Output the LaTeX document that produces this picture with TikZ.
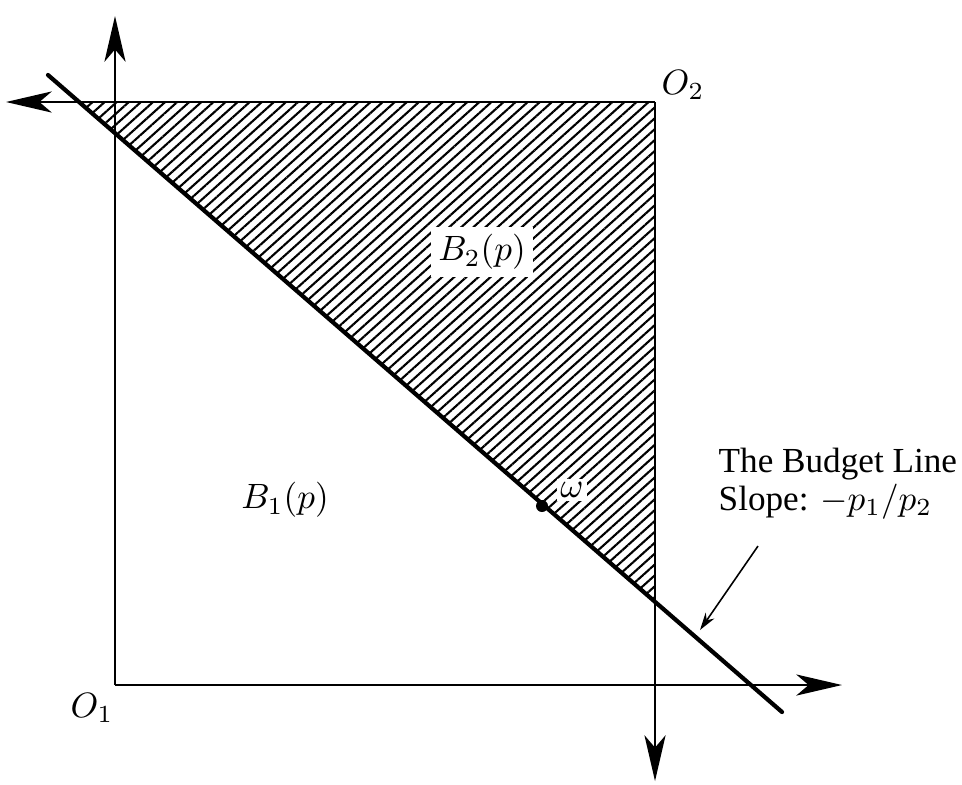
\documentclass[tikz,border=0pt]{standalone}
\usepackage{fontspec}
\setmainfont{Liberation Serif}
\usetikzlibrary{arrows.meta,patterns.meta}
\begin{document}
\begin{tikzpicture}[x=0.01cm, y=-0.01cm, >={Stealth[length=13pt,width=6pt,inset=3.5pt]},
    axis/.style={line width=0.75pt, ->},
    hatch/.style={pattern={Lines[angle=42,distance=2.3pt,line width=0.6pt]}}]
    \useasboundingbox (0,0) rectangle (962,784);

    % Corners of the box
    \coordinate (O1) at (115,685);
    \coordinate (O2) at (655,102);
    \coordinate (uptip) at (115,16);
    \coordinate (righttip) at (842,685);
    \coordinate (lefttip) at (6,102);
    \coordinate (downtip) at (655,781);

    % Budget line and where it meets the box
    \coordinate (bstart) at (48,75);
    \coordinate (bend) at (782,712);
    \coordinate (btop) at (79,102);
    \coordinate (bright) at (655,603);
    \coordinate (omega) at (542,506);

    % Hatched region B_2(p)
    \fill[hatch] (btop) -- (O2) -- (bright) -- cycle;

    % Axes of both consumers
    \draw[axis] (O1) -- (uptip);
    \draw[axis] (O1) -- (righttip);
    \draw[axis] (O2) -- (lefttip);
    \draw[axis] (O2) -- (downtip);

    % Budget line
    \draw[line width=1.2pt, line cap=round] (bstart) -- (bend);
    \fill (omega) circle (6);

    % Labels
    \node (lblO1) at (92,708) {$O_1$};
    \node (lblO2) at (683,85) {$O_2$};
    \node[fill=white, inner sep=2pt] (lblB2) at (482,252) {$B_2(p)$};
    \node (lblB1) at (285,500) {$B_1(p)$};
    \node[fill=white, inner sep=1pt] (lblomega) at (572,490) {$\omega$};
    \node[anchor=base west, inner sep=0pt] (budget) at (718,472) {The Budget Line};
    \node[anchor=base west, inner sep=0pt] (slope) at (718,510) {Slope: $-p_1/p_2$};

    % Pointer to the budget line
    \coordinate (ptrtop) at (758,546);
    \coordinate (ptrtip) at (700,630);
    \draw[-{Stealth[length=5pt,width=3pt]}, line width=0.45pt] (ptrtop) -- (ptrtip);
\end{tikzpicture}
\end{document}
